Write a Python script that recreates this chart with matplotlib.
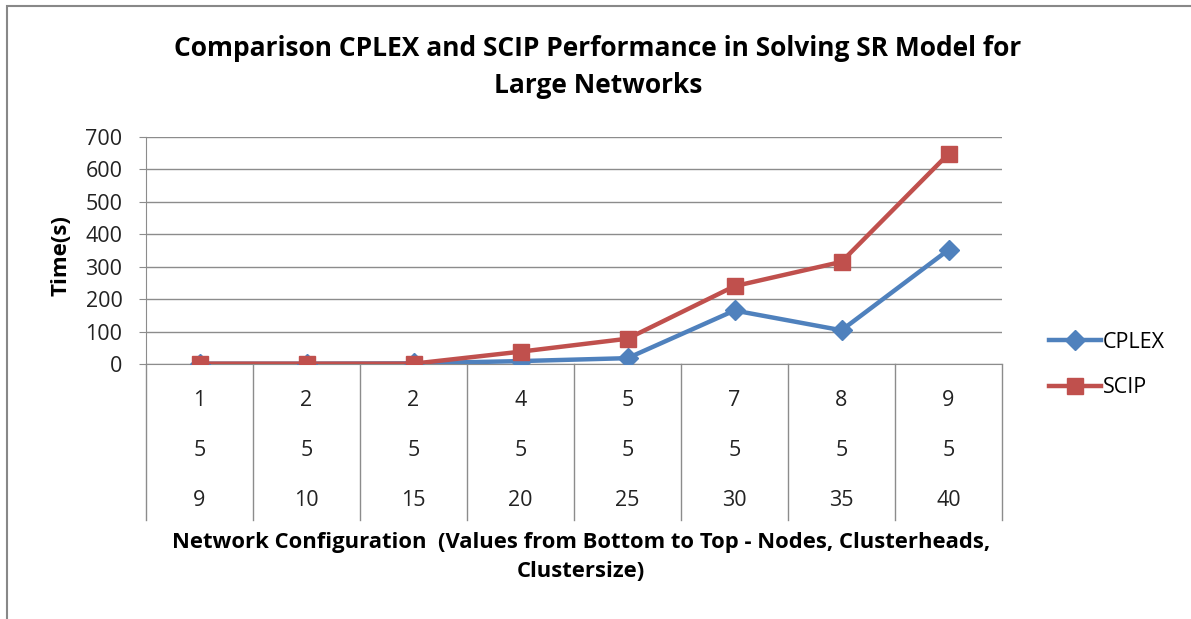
import matplotlib
matplotlib.use("Agg")
import matplotlib.pyplot as plt
import matplotlib.transforms as mtransforms
from matplotlib.patches import Rectangle

# data
nodes = [1, 2, 2, 4, 5, 7, 8, 9]
clusterheads = [5, 5, 5, 5, 5, 5, 5, 5]
clustersize = [9, 10, 15, 20, 25, 30, 35, 40]
cplex = [1, 1, 2, 9, 18, 165, 104, 352]
scip = [1, 1, 1, 38, 78, 240, 315, 648]
yticks = [0, 100, 200, 300, 400, 500, 600, 700]

plt.rcParams['font.family'] = ['Open Sans', 'DejaVu Sans']

W, H = 1191, 619
fig = plt.figure(figsize=(W / 100, H / 100), dpi=100)

# outer chart frame (right and bottom edges fall outside the picture)
fig.patches.append(Rectangle((7 / W, -0.1), 1.2, 1.1 - 6 / H,
                             transform=fig.transFigure, fill=False,
                             edgecolor='#888888', linewidth=1.5))

left, right, top, bottom = 146, 1002, 137, 364
ax = fig.add_axes([left / W, 1 - bottom / H, (right - left) / W, (bottom - top) / H])

x = [i + 0.5 for i in range(len(nodes))]
ax.plot(x, cplex, color='#4F81BD', lw=3.2, marker='D', ms=10, label='CPLEX', zorder=3)
ax.plot(x, scip, color='#C0504D', lw=3.2, marker='s', ms=11, label='SCIP', zorder=4)

ax.set_xlim(0, len(nodes))
ax.set_ylim(0, 700)
ax.set_yticks(yticks)
ax.set_xticks([])
ax.grid(axis='y', color='#8c8c8c', lw=1)
ax.set_axisbelow(True)
for s in ['top', 'right']:
    ax.spines[s].set_visible(False)
ax.spines['left'].set_color('#8c8c8c')
ax.spines['bottom'].set_color('#8c8c8c')
ax.tick_params(axis='y', length=5, color='#8c8c8c', labelsize=15.5, pad=12,
               labelcolor='#222222')

# category table under the axis
trans = mtransforms.blended_transform_factory(ax.transData, ax.transAxes)
ph = bottom - top
tbl_bottom = -(520 - bottom) / ph
for i in range(len(nodes) + 1):
    ax.plot([i, i], [0, tbl_bottom], transform=trans, color='#8c8c8c', lw=1, clip_on=False)
rows = [nodes, clusterheads, clustersize]
row_y = [400, 450, 500]
for vals, ry in zip(rows, row_y):
    for xi, v in zip(x, vals):
        ax.text(xi, -(ry - bottom) / ph, str(v), transform=trans, ha='center',
                va='center', fontsize=15.5, color='#222222')

fig.text(598 / W, 1 - 67 / H,
         'Comparison CPLEX and SCIP Performance in Solving SR Model for\nLarge Networks',
         ha='center', va='center', fontsize=19, fontweight='bold', linespacing=1.5)
fig.text(61 / W, 1 - 256 / H, 'Time(s)', rotation=90, ha='center', va='center',
         fontsize=16, fontweight='bold')
fig.text(581 / W, 1 - 557 / H,
         'Network Configuration  (Values from Bottom to Top - Nodes, Clusterheads,\nClustersize)',
         ha='center', va='center', fontsize=15.8, fontweight='bold', linespacing=1.5)

fig.legend(loc='center left', bbox_to_anchor=(1030 / W, 1 - 365 / H), frameon=False,
           fontsize=15.5, handlelength=2.4, labelspacing=1.15, handletextpad=0.1)

fig.savefig('out.png', dpi=100)
